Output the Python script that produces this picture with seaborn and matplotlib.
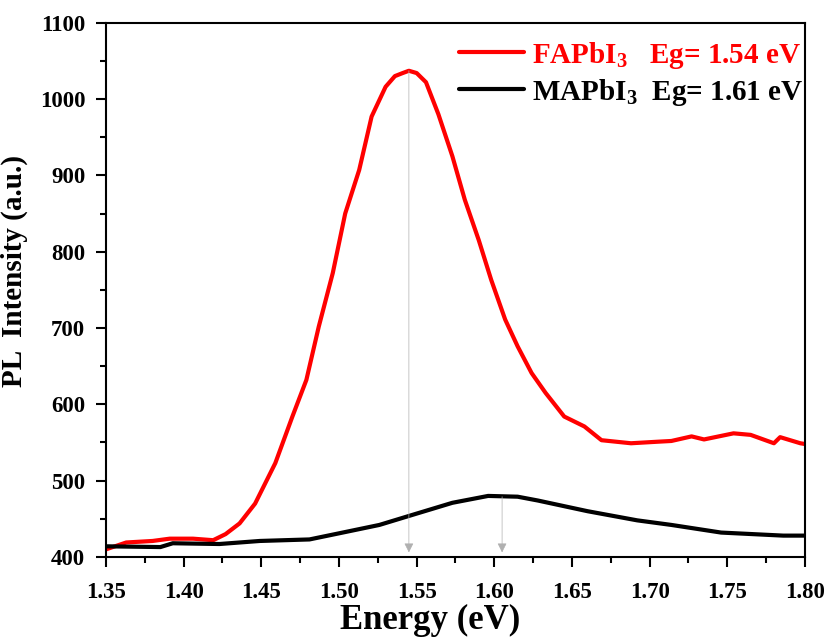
import matplotlib
matplotlib.use("Agg")
import matplotlib.pyplot as plt
import numpy as np
import pandas as pd
import seaborn as sns

# PL spectra
energy_fa = [1.350, 1.363, 1.380, 1.391, 1.406, 1.419, 1.427, 1.436, 1.446, 1.459,
             1.470, 1.479, 1.487, 1.496, 1.504, 1.513, 1.521, 1.530, 1.536, 1.541,
             1.545, 1.550, 1.556, 1.564, 1.573, 1.581, 1.590, 1.598, 1.607, 1.615,
             1.624, 1.633, 1.645, 1.658, 1.669, 1.688, 1.705, 1.714, 1.727, 1.735,
             1.754, 1.765, 1.780, 1.784, 1.797, 1.800]
pl_fa = [410, 419, 421, 424, 424, 422, 430, 444, 470, 523,
         584, 632, 702, 772, 850, 907, 977, 1016, 1030, 1034,
         1037, 1034, 1022, 980, 925, 868, 815, 763, 711, 676,
         641, 615, 584, 571, 553, 549, 551, 552, 558, 554,
         562, 560, 549, 557, 549, 548]

energy_ma = [1.350, 1.385, 1.393, 1.423, 1.449, 1.481, 1.500, 1.526, 1.547, 1.573,
             1.596, 1.615, 1.628, 1.660, 1.692, 1.714, 1.746, 1.786, 1.800]
pl_ma = [414, 413, 418, 417, 421, 423, 431, 442, 455, 471,
         480, 479, 474, 460, 448, 442, 432, 428, 428]

labels = [r"FAPbI$_\mathbf{3}$   Eg= 1.54 eV", r"MAPbI$_\mathbf{3}$  Eg= 1.61 eV"]
gaps = [1.545, 1.605]
gap_tops = [1037, 479]

df = pd.concat([
    pd.DataFrame({"Energy": energy_fa, "PL": pl_fa, "sample": labels[0]}),
    pd.DataFrame({"Energy": energy_ma, "PL": pl_ma, "sample": labels[1]}),
])

sns.set_style("ticks")
plt.rcParams["font.family"] = ["Liberation Serif", "DejaVu Serif"]
plt.rcParams["font.weight"] = "bold"
plt.rcParams["mathtext.fontset"] = "custom"
plt.rcParams["mathtext.rm"] = "Liberation Serif:bold"
plt.rcParams["mathtext.bf"] = "Liberation Serif:bold"
for k in ["text.color", "axes.labelcolor", "xtick.color", "ytick.color", "axes.edgecolor"]:
    plt.rcParams[k] = "black"

fig = plt.figure(figsize=(8.34, 6.37), dpi=100)
ax = fig.add_axes([0.1271, 0.1256, 0.8381, 0.8388])

sns.lineplot(data=df, x="Energy", y="PL", hue="sample",
             palette=["#ff0000", "#000000"], linewidth=3, ax=ax)

for g, top in zip(gaps, gap_tops):
    ax.annotate("", xy=(g, 406), xytext=(g, top),
                arrowprops=dict(arrowstyle="-|>", color="#b0b0b0", lw=0.5,
                                mutation_scale=14, shrinkA=0, shrinkB=0))

ax.set_xlim(1.35, 1.80)
ax.set_ylim(400, 1100)
ax.set_xticks(np.arange(1.35, 1.801, 0.05))
ax.set_xticks(np.arange(1.375, 1.80, 0.05), minor=True)
ax.set_yticks(np.arange(400, 1101, 100))
ax.set_yticks(np.arange(450, 1100, 100), minor=True)
ax.tick_params(which="major", direction="out", length=7, width=1.5, labelsize=16.5, pad=8)
ax.tick_params(axis="x", which="major", pad=11)
ax.tick_params(which="minor", direction="out", length=4, width=1.5)
for t in ax.get_xticklabels() + ax.get_yticklabels():
    t.set_fontweight("bold")
for s in ax.spines.values():
    s.set_linewidth(1.5)
    s.set_visible(True)

ax.set_xlabel("Energy (eV)", fontsize=25, fontweight="bold")
ax.set_ylabel("PL  Intensity (a.u.)", fontsize=21, fontweight="bold")
ax.xaxis.set_label_coords(0.4635, -0.088)
ax.yaxis.set_label_coords(-0.112, 0.535)

leg = ax.legend(loc="upper right", bbox_to_anchor=(1.015, 0.99), frameon=False,
                fontsize=21, handlelength=2.2, handletextpad=0.3,
                labelcolor="linecolor", borderaxespad=0.0, labelspacing=0.2)
for t in leg.get_texts():
    t.set_fontweight("bold")

fig.savefig("out.png", dpi=100)
